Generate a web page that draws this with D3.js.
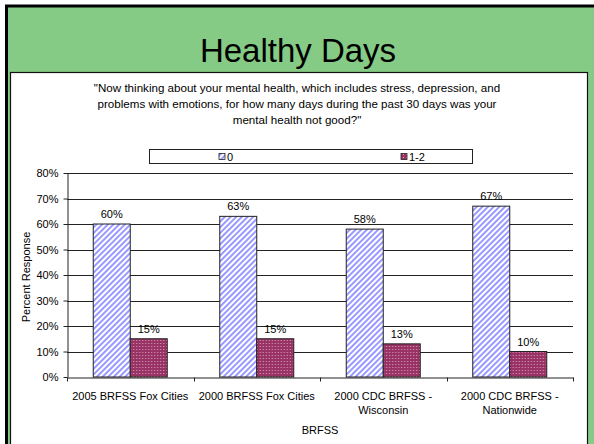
<!DOCTYPE html>
<html>
<head>
<meta charset="utf-8">
<script src="https://cdn.jsdelivr.net/npm/d3@7"></script>
<style>
  body { margin: 0; background: #fff; }
  text { font-family: "Liberation Sans", Arial, sans-serif; fill: #000; }
</style>
</head>
<body>
<div id="chart"></div>
<script>
// data
const categories = [["2005 BRFSS Fox Cities"], ["2000 BRFSS Fox Cities"], ["2000 CDC BRFSS -", "Wisconsin"], ["2000 CDC BRFSS -", "Nationwide"]];
const seriesNames = ["0", "1-2"];
const zeroDays = [60, 63, 58, 67];
const oneTwoDays = [15, 15, 13, 10];
const yTicks = [0, 10, 20, 30, 40, 50, 60, 70, 80];
const questionLines = [
  "\"Now thinking about your mental health, which includes stress, depression, and",
  "problems with emotions, for how many days during the past 30 days was your",
  "mental health not good?\""
];

const W = 594, H = 444;
const svg = d3.select("#chart").append("svg").attr("width", W).attr("height", H);

// patterns for the two series
const defs = svg.append("defs");
const stripes = defs.append("pattern").attr("id", "stripes")
  .attr("patternUnits", "userSpaceOnUse").attr("width", 4).attr("height", 4)
  .attr("patternTransform", "rotate(45)");
stripes.append("rect").attr("width", 4).attr("height", 4).attr("fill", "#fff");
stripes.append("rect").attr("width", 2).attr("height", 4).attr("fill", "#9999ff");

const dots = defs.append("pattern").attr("id", "dots")
  .attr("patternUnits", "userSpaceOnUse").attr("width", 3).attr("height", 3);
dots.append("rect").attr("width", 3).attr("height", 3).attr("fill", "#993366");
dots.append("rect").attr("x", 1).attr("y", 1).attr("width", 1).attr("height", 1).attr("fill", "#d9a0bb");

const fills = ["url(#stripes)", "url(#dots)"];

// slide background
svg.append("rect").attr("x", 0).attr("y", 0).attr("width", W).attr("height", H).attr("fill", "#fff");
svg.append("rect").attr("x", 6.5).attr("y", 6).attr("width", 590).attr("height", 450)
  .attr("fill", "#85cb85").attr("stroke", "#000").attr("stroke-width", 3);
svg.append("rect").attr("x", 10.5).attr("y", 72.5).attr("width", 577).attr("height", 380)
  .attr("fill", "#fff").attr("stroke", "#111").attr("stroke-width", 1.2);

svg.append("text").attr("x", 298).attr("y", 62).attr("text-anchor", "middle")
  .style("font-size", "33px").text("Healthy Days");

// question text
svg.append("g").selectAll("text").data(questionLines).join("text")
  .attr("x", 297).attr("y", (d, i) => 92 + i * 16)
  .attr("text-anchor", "middle").style("font-size", "11.6px").text(d => d);

// chart area
const x0 = d3.scaleBand().domain(d3.range(categories.length)).range([67, 573]);
const x1 = d3.scaleBand().domain(seriesNames).range([0, 74]);
const y = d3.scaleLinear().domain([0, 80]).range([377, 173]);

const grid = svg.append("g");
grid.selectAll("line").data(yTicks.slice(1)).join("line")
  .attr("x1", 67).attr("x2", 573)
  .attr("y1", d => Math.round(y(d)) + 0.5).attr("y2", d => Math.round(y(d)) + 0.5)
  .attr("stroke", "#222").attr("stroke-width", 1);

const yAxis = svg.append("g").attr("transform", "translate(67.5,0)")
  .call(d3.axisLeft(y).tickValues(yTicks).tickFormat(d => d + "%").tickSize(4).tickSizeOuter(0));
yAxis.selectAll("text").style("font-size", "11px").attr("dx", "-2");
yAxis.selectAll("line, path").attr("stroke", "#222");

const xAxis = svg.append("g").attr("transform", "translate(0,377.5)")
  .call(d3.axisBottom(x0).tickValues([]).tickSizeOuter(0));
xAxis.select("path").attr("stroke", "#222");
// category boundary ticks
xAxis.selectAll(".bt").data(d3.range(categories.length + 1)).join("line").attr("class", "bt")
  .attr("x1", i => Math.round(67 + i * x0.step()) + 0.5).attr("x2", i => Math.round(67 + i * x0.step()) + 0.5)
  .attr("y1", 0).attr("y2", 4).attr("stroke", "#222");

// bars
const series = [zeroDays, oneTwoDays];
const groups = svg.append("g").selectAll("g").data(categories.map((c, i) => i)).join("g")
  .attr("transform", i => `translate(${x0(i) + x0.bandwidth() / 2 - 37},0)`);

groups.selectAll("rect").data(i => series.map((s, k) => ({ name: seriesNames[k], v: s[i], k })))
  .join("rect")
  .attr("x", d => x1(d.name)).attr("width", x1.bandwidth())
  .attr("y", d => y(d.v)).attr("height", d => y(0) - y(d.v))
  .attr("fill", d => fills[d.k]).attr("stroke", "#222").attr("stroke-width", 1);

groups.selectAll("text.val").data(i => series.map((s, k) => ({ name: seriesNames[k], v: s[i] })))
  .join("text").attr("class", "val")
  .attr("x", d => x1(d.name) + x1.bandwidth() / 2).attr("y", d => y(d.v) - 6)
  .attr("text-anchor", "middle").style("font-size", "11px").text(d => d.v + "%");

// category labels
svg.append("g").selectAll("text").data(categories).join("text")
  .attr("x", (d, i) => x0(i) + x0.bandwidth() / 2).attr("y", 400)
  .attr("text-anchor", "middle").style("font-size", "11px")
  .selectAll("tspan").data(d => d).join("tspan")
  .attr("x", function () { return d3.select(this.parentNode).attr("x"); })
  .attr("dy", (d, i) => i === 0 ? 0 : 14).text(d => d);

svg.append("text").attr("x", 320).attr("y", 434).attr("text-anchor", "middle")
  .style("font-size", "11px").text("BRFSS");

svg.append("text").attr("transform", "translate(30,277) rotate(-90)")
  .attr("text-anchor", "middle").style("font-size", "11px").text("Percent Response");

// legend
const legend = svg.append("g");
legend.append("rect").attr("x", 149.5).attr("y", 149.5).attr("width", 323).attr("height", 14)
  .attr("fill", "#fff").attr("stroke", "#222");
const legX = [219, 401];
seriesNames.forEach((n, k) => {
  legend.append("rect").attr("x", legX[k]).attr("y", 153.5).attr("width", 6).attr("height", 6)
    .attr("fill", fills[k]).attr("stroke", "#222").attr("stroke-width", 0.8);
  legend.append("text").attr("x", legX[k] + 8).attr("y", 160.5)
    .style("font-size", "11px").text(n);
});
</script>
</body>
</html>
